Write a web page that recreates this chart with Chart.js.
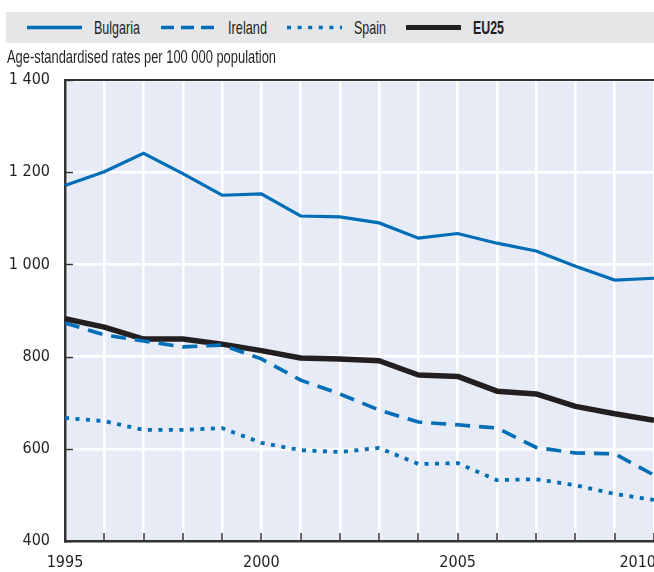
<!DOCTYPE html>
<html>
<head>
<meta charset="utf-8">
<script src="https://cdn.jsdelivr.net/npm/chart.js@4"></script>
<style>
  html, body { margin: 0; padding: 0; background: #fff; }
  body { width: 654px; height: 572px; overflow: hidden; position: relative;
         font-family: "Liberation Sans", Arial, sans-serif; color: #231f20; }
  #legend { position: absolute; left: 6px; top: 12px; width: 648px; height: 31px; background: #e5e6e8; }
  #legend svg { position: absolute; left: 0; top: 0; }
  .fit { position: absolute; display: inline-block; white-space: nowrap; transform-origin: 0 50%; }
  .lt { top: 0; height: 31px; line-height: 31px; font-size: 18.5px; }
  #ytitle { left: 7px; top: 47px; font-size: 18.5px; line-height: 20px; }
  #wrap { position: absolute; left: 0; top: 0; width: 654px; height: 572px; }
</style>
</head>
<body>
<div id="wrap"><canvas id="c" width="654" height="572"></canvas></div>
<div id="legend">
  <svg width="648" height="31">
    <line x1="21" y1="15.5" x2="76" y2="15.5" stroke="#006db7" stroke-width="3.3"/>
    <line x1="155" y1="15.5" x2="208" y2="15.5" stroke="#006db7" stroke-width="3.3" stroke-dasharray="13,7"/>
    <line x1="281" y1="15.5" x2="336" y2="15.5" stroke="#006db7" stroke-width="3.6" stroke-dasharray="4,6.6"/>
    <line x1="400" y1="15.5" x2="455" y2="15.5" stroke="#231f20" stroke-width="5"/>
  </svg>
  <span class="fit lt" data-w="46" style="left:88px">Bulgaria</span>
  <span class="fit lt" data-w="39" style="left:222px">Ireland</span>
  <span class="fit lt" data-w="32" style="left:348px">Spain</span>
  <span class="fit lt" data-w="31" style="left:467px;font-weight:bold">EU25</span>
</div>
<span id="ytitle" class="fit" data-w="269">Age-standardised rates per 100 000 population</span>
<script>
const years = ["1995","1996","1997","1998","1999","2000","2001","2002","2003","2004","2005","2006","2007","2008","2009","2010"];
const bulgaria = [1171, 1201, 1241, 1197, 1150, 1153, 1105, 1103, 1090, 1057, 1067, 1046, 1029, 996, 966, 970];
const ireland  = [873, 847, 834, 821, 825, 795, 749, 719, 684, 658, 652, 645, 603, 591, 589, 543];
const spain    = [667, 660, 641, 641, 645, 613, 597, 593, 602, 567, 569, 532, 534, 521, 502, 489];
const eu25     = [882, 864, 838, 838, 827, 813, 797, 795, 791, 760, 757, 725, 719, 692, 676, 662];
const yTicks = [400, 600, 800, 1000, 1200, 1400];
const xLabelYears = ["1995", "2000", "2005", "2010"];

// condense HTML text to the reference's narrow widths
document.querySelectorAll('.fit').forEach(el => {
  const w = el.getBoundingClientRect().width;
  const target = parseFloat(el.dataset.w);
  if (w > 0) el.style.transform = 'scaleX(' + (target / w).toFixed(4) + ')';
});

const FONT = '"DejaVu Sans Condensed", "Liberation Sans Narrow", sans-serif';
const DARK = '#333333';
const BLUE = '#006db7';

function fmt(v) {
  return String(v).replace(/\B(?=(\d{3})+(?!\d))/g, ' ');
}

const decor = {
  id: 'decor',
  beforeDraw(chart) {
    const a = chart.chartArea, ctx = chart.ctx;
    ctx.save();
    ctx.fillStyle = '#e7ebf6';
    ctx.fillRect(a.left, a.top, a.right - a.left, a.bottom - a.top);
    ctx.restore();
  },
  beforeDatasetsDraw(chart) {
    const a = chart.chartArea, ctx = chart.ctx;
    const xs = chart.scales.x, ys = chart.scales.y;
    ctx.save();
    ctx.strokeStyle = DARK;
    ctx.lineWidth = 1.5;
    yTicks.forEach(v => {
      const y = Math.round(ys.getPixelForValue(v)) + 0.5;
      ctx.beginPath(); ctx.moveTo(a.left, y); ctx.lineTo(a.left + 8, y); ctx.stroke();
    });
    years.forEach((yr, i) => {
      const x = Math.round(xs.getPixelForValue(i));
      ctx.beginPath(); ctx.moveTo(x, a.bottom); ctx.lineTo(x, a.bottom - 8); ctx.stroke();
    });
    ctx.lineWidth = 2;
    ctx.beginPath(); ctx.moveTo(a.left - 1, a.top); ctx.lineTo(a.right, a.top); ctx.stroke();
    ctx.restore();
  },
  afterDraw(chart) {
    const a = chart.chartArea, ctx = chart.ctx;
    const xs = chart.scales.x;
    ctx.save();
    ctx.font = '16px ' + FONT;
    ctx.fillStyle = '#231f20';
    ctx.textBaseline = 'middle';
    ctx.textAlign = 'left';
    years.forEach((yr, i) => {
      if (!xLabelYears.includes(yr)) return;
      const w = ctx.measureText(yr).width;
      let x = xs.getPixelForValue(i) - w / 2;
      if (x + w > chart.width + 2) x = chart.width + 2 - w;
      ctx.fillText(yr, x, a.bottom + 22);
    });
    ctx.restore();
  }
};

new Chart(document.getElementById('c'), {
  type: 'line',
  data: {
    labels: years,
    datasets: [
      { label: 'Bulgaria', data: bulgaria, borderColor: BLUE, borderWidth: 3.2, pointRadius: 0, tension: 0, fill: false },
      { label: 'Ireland', data: ireland, borderColor: BLUE, borderWidth: 3.6, borderDash: [15, 9], pointRadius: 0, tension: 0, fill: false },
      { label: 'Spain', data: spain, borderColor: BLUE, borderWidth: 3.8, borderDash: [4, 6.5], pointRadius: 0, tension: 0, fill: false },
      { label: 'EU25', data: eu25, borderColor: '#231f20', borderWidth: 5.5, pointRadius: 0, tension: 0, fill: false, borderJoinStyle: 'round' }
    ]
  },
  options: {
    responsive: false,
    animation: false,
    layout: { autoPadding: false, padding: { top: 80, left: 0, right: 0, bottom: 0 } },
    plugins: { legend: { display: false }, tooltip: { enabled: false }, title: { display: false } },
    scales: {
      x: {
        type: 'category',
        offset: false,
        grid: { color: '#ffffff', lineWidth: 2.5, drawTicks: false },
        border: { display: true, color: DARK, width: 2.5 },
        ticks: { display: false },
        afterFit(s) { s.height = 31; }
      },
      y: {
        min: 400, max: 1400,
        afterBuildTicks(s) { s.ticks = yTicks.map(v => ({ value: v })); },
        grid: { color: '#ffffff', lineWidth: 2.5, drawTicks: false },
        border: { display: true, color: DARK, width: 2.5 },
        ticks: {
          padding: 15,
          color: '#231f20',
          font: { family: FONT, size: 16 },
          callback: v => fmt(v)
        },
        afterFit(s) { s.width = 65; }
      }
    }
  },
  plugins: [decor]
});
</script>
</body>
</html>
